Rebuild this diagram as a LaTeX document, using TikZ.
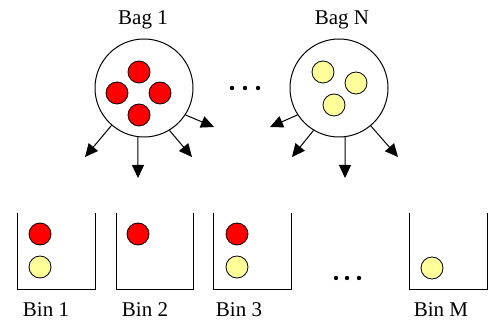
\documentclass[tikz,border=0pt]{standalone}
\usepackage{fontspec}
\setmainfont{Liberation Serif}
\usetikzlibrary{arrows.meta}
\definecolor{ballred}{RGB}{255,0,0}
\definecolor{ballyellow}{RGB}{255,255,153}
\tikzset{ball/.style={draw, circle, line width=0.8pt, minimum size=22pt, inner sep=0pt}}
\tikzset{line/.style={draw, line width=1pt, -{Triangle[length=13pt, width=12pt]}}}

\begin{document}
\begin{tikzpicture}[x=1pt, y=-1pt,
                    bag/.style={draw, circle, line width=1pt, minimum size=98pt, inner sep=0pt},
                    redball/.style={ball, fill=ballred},
                    yellowball/.style={ball, fill=ballyellow},
                    bin/.style={minimum width=77pt, minimum height=76pt, inner sep=0pt},
                    txt/.style={anchor=base, inner sep=0pt, font=\fontsize{21}{24}\selectfont}]
    \useasboundingbox (0,0) rectangle (493,320);

    % Bags
    \node [bag] (bag1) at (144,88) {};
    \node [bag] (bagN) at (339,88) {};
    \node [txt] (bag1txt) at (143,25) {Bag 1};
    \node [txt] (bagNtxt) at (342,25) {Bag N};

    % Balls inside the bags
    \node [redball] (b1a) at (139,72)  {};
    \node [redball] (b1b) at (117,93)  {};
    \node [redball] (b1c) at (160,93)  {};
    \node [redball] (b1d) at (139,115) {};
    \node [yellowball] (bNa) at (323,72)  {};
    \node [yellowball] (bNb) at (356,83)  {};
    \node [yellowball] (bNc) at (334,105) {};

    % Arrow ends
    \coordinate (a1) at (85,157);
    \coordinate (a2) at (138,178);
    \coordinate (a3) at (192,157);
    \coordinate (a4) at (214,127);
    \coordinate (n1) at (270,127);
    \coordinate (n2) at (292,157);
    \coordinate (n3) at (345,178);
    \coordinate (n4) at (398,157);

    % Paths
    \path [line] (bag1.-131) -- (a1);
    \path [line] (bag1.-97)  -- (a2);
    \path [line] (bag1.-59)  -- (a3);
    \path [line] (bag1.-33)  -- (a4);
    \path [line] (bagN.-147) -- (n1);
    \path [line] (bagN.-121) -- (n2);
    \path [line] (bagN.-83)  -- (n3);
    \path [line] (bagN.-50)  -- (n4);

    % Bins
    \node [bin] (bin1) at (56.5,251)  {};
    \node [bin] (bin2) at (155,251)   {};
    \node [bin] (bin3) at (252.5,251) {};
    \node [bin] (binM) at (448.5,251) {};
    \foreach \b in {bin1,bin2,bin3,binM}
        \draw [line width=1pt] (\b.north west) |- (\b.south east) -- (\b.north east);

    \node [redball]    (r1) at (40,234)  {};
    \node [yellowball] (y1) at (40,267)  {};
    \node [redball]    (r2) at (138,234) {};
    \node [redball]    (r3) at (237,234) {};
    \node [yellowball] (y3) at (237,267) {};
    \node [yellowball] (yM) at (432,268) {};

    \node [txt] (bin1txt) at (46,317)  {Bin 1};
    \node [txt] (bin2txt) at (145,317) {Bin 2};
    \node [txt] (bin3txt) at (239,317) {Bin 3};
    \node [txt] (binMtxt) at (441,317) {Bin M};

    % Dots
    \foreach \x in {232,245,258}
        \fill (\x,88) circle (2.2pt);
    \foreach \x in {336,347,359}
        \fill (\x,278) circle (2.2pt);
\end{tikzpicture}
\end{document}
